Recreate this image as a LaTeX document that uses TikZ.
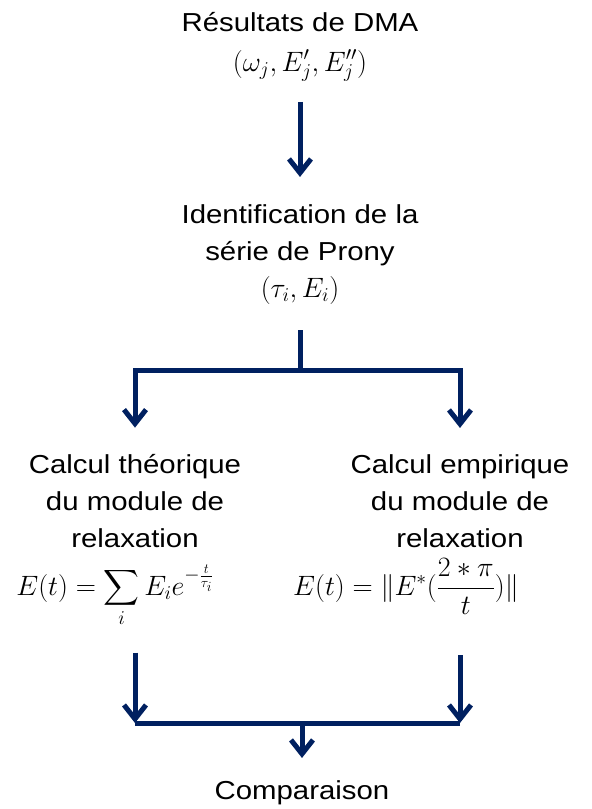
\RequirePackage{fix-cm}
\documentclass[tikz,border=0pt]{standalone}
\usepackage{amsmath}
\usepackage[no-math]{fontspec}
\setmainfont[FakeStretch=1.13]{Liberation Sans}
\usepackage{xcolor}
\usetikzlibrary{arrows.meta,positioning,calc}
\definecolor{navy}{HTML}{002060}

\begin{document}
\begin{tikzpicture}[x=1pt,y=-1pt,
   txt/.style={font=\fontsize{26}{37}\selectfont,align=center,inner sep=0pt,anchor=base},
   eq/.style={font=\fontsize{28}{34}\selectfont,inner sep=0pt,anchor=base},
   bar/.style={navy,line width=5pt},
   flow/.style={bar,-{Straight Barb[length=14pt,width=22pt]}}]
  \useasboundingbox (0,0) rectangle (592,809);
  % DMA data
  \node[txt] (dma) at (300,31) {Résultats de DMA};
  \node[eq] (dmaeq) at (300,71) {$(\omega_j, E'_j, E''_j)$};
  % Prony series (base = last line)
  \node[txt] (prony) at (300,260) {Identification de la\\série de Prony};
  \node[eq] (pronyeq) at (300,297) {$(\tau_i, E_i)$};
  % two ways to get the modulus
  \node[txt] (theo) at (135,547) {Calcul théorique\\du module de\\relaxation};
  \node[txt] (empi) at (460,547) {Calcul empirique\\du module de\\relaxation};
  \node[eq] (theoeq) at (115,595) {$E(t)=\displaystyle\sum_i E_i e^{-\frac{t}{\tau_i}}$};
  \node[eq] (empieq) at (406,595) {$E(t)=\|E^*(\dfrac{2*\pi}{t})\|$};
  \node[txt] (comp) at (302,799) {Comparaison};
  \coordinate (split) at (300,370);
  \coordinate (join) at (302,723);
  % connectors
  \draw[flow,shorten <=20pt,shorten >=27pt] (dmaeq.south) -- (prony.north);
  \draw[bar,shorten <=26pt] (pronyeq.south) -- (split);
  \draw[flow,shorten >=26pt] (split) -| (theo.north);
  \draw[flow,shorten >=26pt] (split) -| (empi.north);
  \draw[flow,shorten <=25pt] (theo |- theoeq.south) -- (join -| theo);
  \draw[flow,shorten <=41pt] (empi |- empieq.south) -- (join -| empi);
  \draw[bar] (join -| theo) -- (join -| empi);
  \draw[flow,shorten >=22pt] (join) -- (comp.north);
\end{tikzpicture}
\end{document}
